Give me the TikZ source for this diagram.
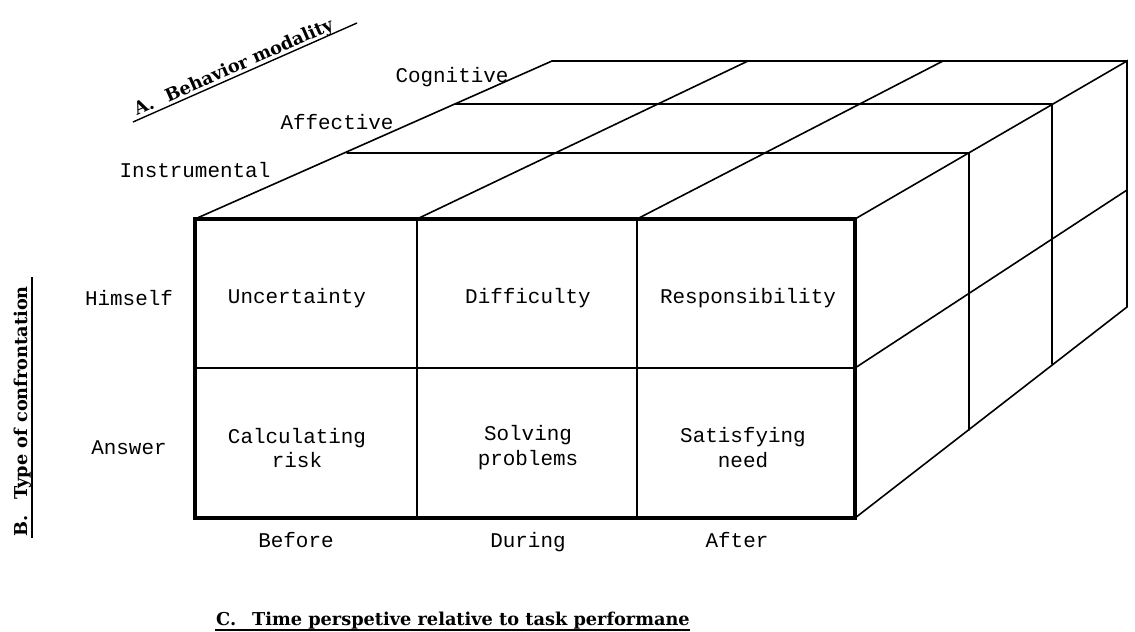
\documentclass[tikz,border=0pt]{standalone}
\usepackage{fontspec}
\newfontfamily\typewriter{Liberation Mono}
\newfontfamily\titleserif{DejaVu Serif}
\begin{document}
\begin{tikzpicture}[x=1bp,y=-1bp,
  thin edge/.style={line width=1.6bp, line cap=round},
  face edge/.style={line width=4.5bp, line join=miter},
  face div/.style={line width=2.8bp},
  lbl/.style={font=\typewriter\fontsize{21}{25}\selectfont, inner sep=0pt, align=center},
  axis/.style={font=\titleserif\bfseries\fontsize{17.8}{20}\selectfont, inner sep=0pt},
  axis rule/.style={line width=1.4bp},
]
\useasboundingbox (0,0) rectangle (1135,632);

% front face corners and grid points
\coordinate (F0) at (195,219);
\coordinate (F1) at (417,219);
\coordinate (F2) at (637,219);
\coordinate (F3) at (855,219);
\coordinate (M0) at (195,368);
\coordinate (M3) at (855,368);
\coordinate (G0) at (195,518);
\coordinate (G1) at (417,518);
\coordinate (G2) at (637,518);
\coordinate (G3) at (855,518);

% back edge of the top face
\coordinate (B0) at (552,61);
\coordinate (B1) at (748,61);
\coordinate (B2) at (943,61);
\coordinate (B3) at (1127,61);

% depth layers on the top face
\coordinate (P1) at (347,153);
\coordinate (Q1) at (969,153);
\coordinate (P2) at (455,104);
\coordinate (Q2) at (1052,104);

% right face
\coordinate (Q1b) at (969,430);
\coordinate (Q2b) at (1052,364);
\coordinate (B3b) at (1127,307);
\coordinate (RM) at (1127,190);

% top face
\draw[thin edge] (F0) -- (B0) -- (B3);
\draw[thin edge] (F1) -- (B1);
\draw[thin edge] (F2) -- (B2);
\draw[thin edge] (P1) -- (Q1);
\draw[thin edge] (P2) -- (Q2);

% right face
\draw[thin edge] (F3) -- (B3) -- (B3b) -- (G3);
\draw[thin edge] (Q1) -- (Q1b);
\draw[thin edge] (Q2) -- (Q2b);
\draw[thin edge] (M3) -- (RM);

% front face
\draw[face div] (F1) -- (G1);
\draw[face div] (F2) -- (G2);
\draw[face div] (M0) -- (M3);
\draw[face edge] (F0) rectangle (G3);

% cell entries
\node[lbl] (c11) at (297,298) {Uncertainty};
\node[lbl] (c12) at (528,298) {Difficulty};
\node[lbl] (c13) at (748,298) {Responsibility};
\node[lbl] (c21) at (297,448) {Calculating\\risk};
\node[lbl] (c22) at (528,448) {Solving\\problems};
\node[lbl] (c23) at (743,448) {Satisfying\\need};

% row, column and layer labels
\node[lbl] (himself) at (129,298) {Himself};
\node[lbl] (answer) at (129,448) {Answer};
\node[lbl, anchor=base] (before) at (296,547) {Before};
\node[lbl, anchor=base] (during) at (528,547) {During};
\node[lbl, anchor=base] (after) at (737,547) {After};
\node[lbl] (instr) at (195,170) {Instrumental};
\node[lbl] (affect) at (337,122) {Affective};
\node[lbl] (cognit) at (452,77) {Cognitive};

% axis titles
\coordinate (Aa) at (133,122);
\coordinate (Ab) at (357,23);
\draw[axis rule] (Aa) -- (Ab);
\node[axis, rotate=23.8, anchor=base west] (axA) at (137,116) {A.\hspace{0.8em}Behavior modality};

\coordinate (Ba) at (32,538);
\coordinate (Bb) at (32,277);
\draw[axis rule] (Ba) -- (Bb);
\node[axis, rotate=90, anchor=base west] (axB) at (27,537) {B.\hspace{0.9em}Type of confrontation};

\coordinate (Ca) at (215,630);
\coordinate (Cb) at (690,630);
\draw[axis rule] (Ca) -- (Cb);
\node[axis, anchor=base west] (axC) at (216,625) {C.\hspace{0.9em}Time perspetive relative to task performane};
\end{tikzpicture}
\end{document}
